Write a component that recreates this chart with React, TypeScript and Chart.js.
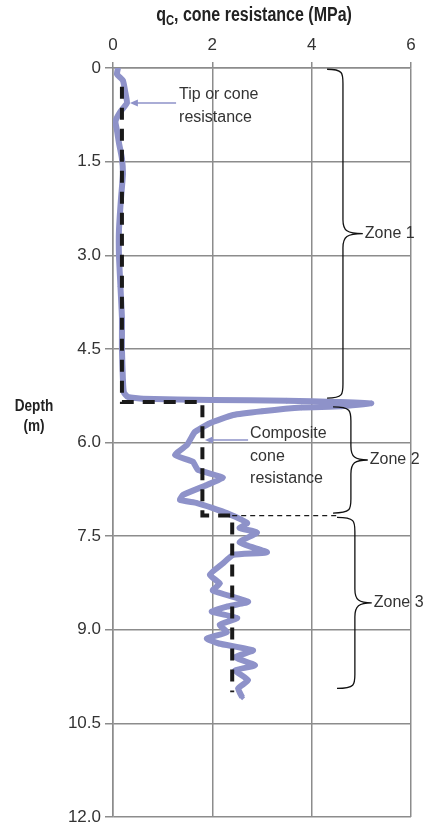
import React, { useEffect, useRef } from "react";
import { Chart, registerables } from "chart.js";

Chart.register(...registerables);

// ---- data ----
const tipDepth = [
  0.0, 0.1, 0.2, 0.4, 0.56, 0.7, 0.85, 1.0, 1.2, 1.45, 1.7, 2.1, 2.6, 3.0, 3.5, 4.0, 4.5, 5.0, 5.2, 5.27,
  5.3, 5.32, 5.33, 5.35, 5.37,
  5.42, 5.44, 5.5, 5.56, 5.69, 5.83, 5.96, 6.04, 6.2, 6.31, 6.44, 6.56, 6.68, 6.84, 6.92, 6.97,
  7.05, 7.13, 7.29, 7.37, 7.44, 7.6, 7.76, 7.8, 7.94, 8.12, 8.26, 8.37, 8.55, 8.63, 8.71, 8.81, 8.92,
  9.04, 9.14, 9.22, 9.33, 9.44, 9.57, 9.65, 9.81, 9.94, 10.08,
];
const tipQc = [
  0.1, 0.08, 0.2, 0.25, 0.28, 0.15, 0.05, 0.08, 0.12, 0.18, 0.2, 0.16, 0.12, 0.12, 0.15, 0.18, 0.18, 0.2, 0.22, 0.3,
  0.6, 2.0, 3.5, 4.5, 5.2,
  4.6, 3.8, 3.0, 2.42, 1.95, 1.65, 1.55, 1.49, 1.25, 1.61, 1.71, 2.21, 1.89, 1.41, 1.35, 1.69,
  2.01, 2.29, 2.7, 2.55, 2.9, 2.55, 3.1, 2.42, 2.21, 1.95, 2.15, 2.01, 2.72, 2.29, 1.99, 2.5, 2.15,
  2.29, 1.89, 2.13, 2.82, 2.46, 2.86, 2.46, 2.72, 2.52, 2.6,
];
const compositeDepth = [0.3, 5.35, 5.35, 7.17, 7.17, 10.0];
const compositeQc = [0.18, 0.18, 1.8, 1.8, 2.4, 2.4];
const dividerDepth = [7.17, 7.17];
const dividerQc = [2.4, 4.5];

const xTicks = [0, 2, 4, 6];
const yTickLabels = ["0", "1.5", "3.0", "4.5", "6.0", "7.5", "9.0", "10.5", "12.0"];
const zoneLabels = ["Zone 1", "Zone 2", "Zone 3"];
const zoneTop = [0.02, 5.43, 7.2];
const zoneBottom = [5.29, 7.13, 9.94];

const BLUE = "#8e92c9";
const GRID = "#8c8c8c";
const TEXT = "#333333";
const FONT = "'Liberation Sans', Arial, sans-serif";

const overlay = {
  id: "overlay",
  afterDraw(chart: any) {
    const ctx = chart.ctx;
    const xs = chart.scales.x;
    const ys = chart.scales.y;
    const X = (v: number) => xs.getPixelForValue(v);
    const Y = (v: number) => ys.getPixelForValue(v);
    ctx.save();

    // axis title with subscript, condensed bold
    ctx.fillStyle = "#222";
    ctx.textBaseline = "alphabetic";
    const parts: [string, number, number][] = [
      ["q", 20, 0],
      ["C", 14, 4],
      [", cone resistance (MPa)", 20, 0],
    ];
    const sx = 0.8;
    let total = 0;
    for (const [t, s] of parts) {
      ctx.font = `bold ${s}px ${FONT}`;
      total += ctx.measureText(t).width * sx;
    }
    let cx = 254 - total / 2;
    for (const [t, s, dy] of parts) {
      ctx.font = `bold ${s}px ${FONT}`;
      ctx.save();
      ctx.translate(cx, 21 + dy);
      ctx.scale(sx, 1);
      ctx.fillText(t, 0, 0);
      ctx.restore();
      cx += ctx.measureText(t).width * sx;
    }

    // depth label
    ctx.font = `bold 17px ${FONT}`;
    ctx.textAlign = "center";
    ctx.save();
    ctx.translate(34, 411);
    ctx.scale(0.8, 1);
    ctx.fillText("Depth", 0, 0);
    ctx.fillText("(m)", 0, 20);
    ctx.restore();

    // annotations
    ctx.font = `16px ${FONT}`;
    ctx.fillStyle = TEXT;
    ctx.textAlign = "left";
    ctx.textBaseline = "middle";
    ctx.fillText("Tip or cone", X(1.33), Y(0.42));
    ctx.fillText("resistance", X(1.33), Y(0.8));
    ctx.fillText("Composite", X(2.76), Y(5.86));
    ctx.fillText("cone", X(2.76), Y(6.22));
    ctx.fillText("resistance", X(2.76), Y(6.58));

    const arrow = (x0: number, x1: number, y: number) => {
      ctx.strokeStyle = BLUE;
      ctx.fillStyle = BLUE;
      ctx.lineWidth = 1.5;
      ctx.beginPath();
      ctx.moveTo(X(x0), Y(y));
      ctx.lineTo(X(x1) + 4, Y(y));
      ctx.stroke();
      ctx.beginPath();
      ctx.moveTo(X(x1), Y(y));
      ctx.lineTo(X(x1) + 8, Y(y) - 3.5);
      ctx.lineTo(X(x1) + 8, Y(y) + 3.5);
      ctx.closePath();
      ctx.fill();
    };
    arrow(1.27, 0.34, 0.56);
    arrow(2.72, 1.85, 5.96);

    // braces
    const braces = [
      { xs: 4.31, xb: 4.63, xt: 5.03 },
      { xs: 4.43, xb: 4.79, xt: 5.13 },
      { xs: 4.51, xb: 4.87, xt: 5.21 },
    ];
    ctx.strokeStyle = "#111";
    ctx.lineWidth = 1.3;
    braces.forEach((b, i) => {
      const y0 = Y(zoneTop[i]);
      const y1 = Y(zoneBottom[i]);
      const ym = (y0 + y1) / 2;
      const pxs = X(b.xs), pxb = X(b.xb), pxt = X(b.xt);
      const r = 14;
      ctx.beginPath();
      ctx.moveTo(pxs, y0);
      ctx.bezierCurveTo(pxb, y0, pxb, y0 + 4, pxb, y0 + r);
      ctx.lineTo(pxb, ym - r);
      ctx.bezierCurveTo(pxb, ym - 3, pxb + 4, ym, pxt, ym);
      ctx.moveTo(pxt, ym);
      ctx.bezierCurveTo(pxb + 4, ym, pxb, ym + 3, pxb, ym + r);
      ctx.lineTo(pxb, y1 - r);
      ctx.bezierCurveTo(pxb, y1 - 4, pxb, y1, pxs, y1);
      ctx.stroke();
      ctx.fillStyle = TEXT;
      ctx.font = `16px ${FONT}`;
      ctx.textAlign = "left";
      ctx.textBaseline = "middle";
      ctx.fillText(zoneLabels[i], pxt + 2, ym);
    });
    ctx.restore();
  },
};

export default function App() {
  const ref = useRef<HTMLCanvasElement | null>(null);
  useEffect(() => {
    if (!ref.current) return;
    const chart = new Chart(ref.current, {
      type: "scatter",
      data: {
        datasets: [
          {
            label: "Composite",
            data: compositeDepth.map((d, i) => ({ x: compositeQc[i], y: d })),
            showLine: true,
            borderColor: "#1a1a1a",
            borderWidth: 4,
            borderDash: [12, 9],
            pointRadius: 0,
            order: 0,
          },
          {
            label: "Divider",
            data: dividerDepth.map((d, i) => ({ x: dividerQc[i], y: d })),
            showLine: true,
            borderColor: "#1a1a1a",
            borderWidth: 1.3,
            borderDash: [5, 4],
            pointRadius: 0,
            order: 1,
          },
          {
            label: "Tip",
            data: tipDepth.map((d, i) => ({ x: tipQc[i], y: d })),
            showLine: true,
            borderColor: BLUE,
            backgroundColor: BLUE,
            borderWidth: 6,
            tension: 0.15,
            pointRadius: 3,
            pointStyle: "rectRot",
            pointBorderWidth: 0,
            order: 2,
          },
        ],
      },
      options: {
        responsive: false,
        animation: false,
        layout: { padding: { left: 0, top: 0, right: 24, bottom: 9 } },
        plugins: { legend: { display: false }, tooltip: { enabled: false } },
        scales: {
          x: {
            type: "linear",
            position: "top",
            min: 0,
            max: 6,
            afterBuildTicks: (s: any) => {
              s.ticks = xTicks.map((v) => ({ value: v }));
            },
            afterFit: (s: any) => {
              s.height = 68;
              s.paddingLeft = 0;
              s.paddingRight = 0;
            },
            ticks: {
              font: { size: 17, family: FONT },
              color: TEXT,
              padding: 6,
            },
            grid: { color: GRID, lineWidth: 1.5, tickLength: 6 },
            border: { color: GRID, width: 1.5 },
          },
          y: {
            type: "linear",
            reverse: true,
            min: 0,
            max: 12,
            afterBuildTicks: (s: any) => {
              s.ticks = yTickLabels.map((_, i) => ({ value: i * 1.5 }));
            },
            afterFit: (s: any) => {
              s.width = 113;
              s.paddingTop = 0;
              s.paddingBottom = 0;
            },
            ticks: {
              font: { size: 17, family: FONT },
              color: TEXT,
              padding: 4,
              callback: (_v: any, i: number) => yTickLabels[i],
            },
            grid: { color: GRID, lineWidth: 1.5, tickLength: 8 },
            border: { color: GRID, width: 1.5 },
          },
        },
      },
      plugins: [overlay],
    });
    return () => chart.destroy();
  }, []);
  return (
    <div style={{ position: "absolute", left: 0, top: 0, width: 435, height: 826, overflow: "hidden", background: "#fff" }}>
      <canvas ref={ref} width={435} height={826} style={{ display: "block" }} />
    </div>
  );
}
